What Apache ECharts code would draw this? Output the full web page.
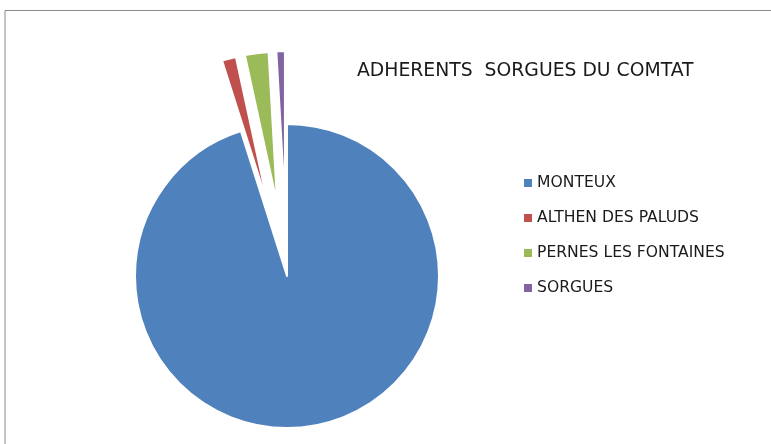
<!DOCTYPE html>
<html>
<head>
<meta charset="utf-8">
<script src="https://cdn.jsdelivr.net/npm/echarts@6/dist/echarts.min.js"></script>
<style>html,body{margin:0;padding:0;background:#fff}#c{width:771px;height:444px}</style>
</head>
<body>
<div id="c"></div>
<script>
const categories = ['MONTEUX', 'ALTHEN DES PALUDS', 'PERNES LES FONTAINES', 'SORGUES'];
const values = [950, 15, 25, 9];
const exploded = [false, true, true, true];
const colors = ['#4F81BD', '#C0504D', '#9BBB59', '#8064A2'];
const titleText = 'ADHERENTS  SORGUES DU COMTAT';

const chart = echarts.init(document.getElementById('c'));
const font = '"DejaVu Sans", sans-serif';
chart.setOption({
  animation: false,
  color: colors,
  title: {
    text: titleText,
    left: 357, top: 62,
    padding: 0,
    textStyle: { fontFamily: font, fontSize: 18.8, fontWeight: 'normal', color: '#1a1a1a' }
  },
  legend: {
    orient: 'vertical',
    left: 524, top: 175,
    padding: 0,
    icon: 'rect',
    itemWidth: 8, itemHeight: 8,
    itemGap: 19,
    selectedMode: false,
    itemStyle: { borderWidth: 0 },
    textStyle: { fontFamily: font, fontSize: 15.6, color: '#1a1a1a', lineHeight: 16 },
    data: categories
  },
  graphic: [{
    type: 'polyline',
    shape: { points: [[5, 444], [5, 10.5], [771, 10.5]] },
    style: { stroke: '#8a8a8a', lineWidth: 1, fill: null }
  }],
  series: [{
    type: 'pie',
    center: [287, 276],
    radius: [0, 152],
    startAngle: 90,
    clockwise: true,
    selectedMode: 'multiple',
    selectedOffset: 73,
    label: { show: false },
    labelLine: { show: false },
    emphasis: { disabled: true },
    itemStyle: { borderColor: '#fff', borderWidth: 2 },
    data: categories.map((n, i) => ({ name: n, value: values[i], selected: exploded[i] }))
  }]
});
</script>
</body>
</html>
